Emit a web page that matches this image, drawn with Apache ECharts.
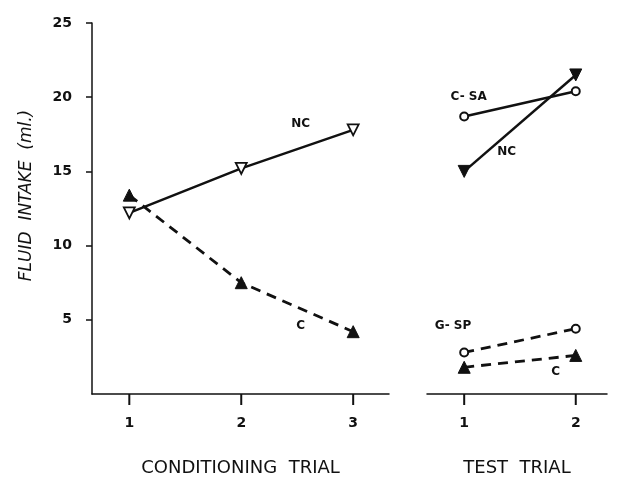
<!DOCTYPE html>
<html>
<head>
<meta charset="utf-8">
<script src="https://cdn.jsdelivr.net/npm/echarts@6/dist/echarts.min.js"></script>
<style>
html, body { margin: 0; padding: 0; background: #fff; }
#main { width: 620px; height: 478px; }
</style>
</head>
<body>
<div id="main"></div>
<script>
// conditioning trials (left panel)
var condTrials = [1, 2, 3];
var condNC = [12.2, 15.2, 17.8];
var condC = [13.4, 7.5, 4.2];

// test trials (right panel)
var testTrials = [1, 2];
var testCSA = [18.7, 20.4];
var testNC = [15.0, 21.5];
var testGSP = [2.8, 4.4];
var testC = [1.8, 2.6];

var yTicks = [5, 10, 15, 20, 25];

function pairs(xs, ys) {
    return xs.map(function (x, i) { return [x, ys[i]]; });
}

var myChart = echarts.init(document.getElementById('main'));

var lbl = function (text, coord) {
    return {
        coord: coord,
        symbolSize: 0,
        label: {
            show: true, formatter: text, position: 'inside',
            color: '#111', fontSize: 12, fontWeight: 'bold', fontFamily: 'DejaVu Sans'
        }
    };
};

var axisText = { color: '#111', fontSize: 14, fontWeight: 'bold', fontFamily: 'DejaVu Sans' };

// x labels carry their own tick mark (a small dark box above the number)
function xLabel(values) {
    return {
        margin: 0,
        customValues: values,
        formatter: function (v) { return '{t| }\n{n|' + v + '}'; },
        rich: {
            t: { width: 2, height: 11, lineHeight: 11, backgroundColor: '#111', fontSize: 1 },
            n: { color: '#111', fontSize: 14, fontWeight: 'bold', fontFamily: 'DejaVu Sans',
                 lineHeight: 36 }
        }
    };
}

option = {
    animation: false,
    backgroundColor: '#fff',
    grid: [
        { left: 92, top: 23, width: 297, height: 371, outerBoundsMode: 'none', containLabel: false },
        { left: 427, top: 23, width: 180, height: 371, outerBoundsMode: 'none', containLabel: false }
    ],
    xAxis: [
        {
            gridIndex: 0, type: 'value', min: 2 / 3, max: 3.32, interval: 1 / 3,
            axisLine: { onZero: false, lineStyle: { color: '#111', width: 1.5 } },
            axisTick: { show: false },
            axisLabel: xLabel(condTrials),
            splitLine: { show: false },
            name: 'CONDITIONING  TRIAL', nameLocation: 'middle', nameGap: 65,
            nameTextStyle: { color: '#111', fontSize: 18, fontFamily: 'DejaVu Sans' }
        },
        {
            gridIndex: 1, type: 'value', min: 2 / 3, max: 2.28, interval: 1 / 3,
            axisLine: { onZero: false, lineStyle: { color: '#111', width: 1.5 } },
            axisTick: { show: false },
            axisLabel: xLabel(testTrials),
            splitLine: { show: false },
            name: 'TEST  TRIAL', nameLocation: 'middle', nameGap: 65,
            nameTextStyle: { color: '#111', fontSize: 18, fontFamily: 'DejaVu Sans' }
        }
    ],
    yAxis: [
        {
            gridIndex: 0, type: 'value', min: 0, max: 25, interval: 5,
            axisLine: { show: true, onZero: false, lineStyle: { color: '#111', width: 1.5 } },
            axisTick: { show: true, length: 6, lineStyle: { color: '#111', width: 1.5 },
                customValues: yTicks },
            axisLabel: Object.assign({ margin: 20, customValues: yTicks }, axisText),
            splitLine: { show: false },
            name: 'FLUID  INTAKE  (ml.)', nameLocation: 'middle', nameGap: 57,
            nameTextStyle: { color: '#111', fontSize: 17, fontStyle: 'italic', fontFamily: 'DejaVu Sans',
                padding: [0, 0, 0, 26] }
        },
        {
            gridIndex: 1, type: 'value', min: 0, max: 25, interval: 5,
            axisLine: { show: false }, axisTick: { show: false },
            axisLabel: { show: false }, splitLine: { show: false }
        }
    ],
    series: [
        {
            name: 'NC', type: 'line', xAxisIndex: 0, yAxisIndex: 0,
            data: pairs(condTrials, condNC),
            symbol: 'triangle', symbolRotate: 180, symbolSize: 11,
            lineStyle: { color: '#111', width: 2.5 },
            itemStyle: { color: '#fff', borderColor: '#111', borderWidth: 1.8 },
            markPoint: { data: [lbl('NC', [2.53, 18.2])] }
        },
        {
            name: 'C', type: 'line', xAxisIndex: 0, yAxisIndex: 0,
            data: pairs(condTrials, condC),
            symbol: 'triangle', symbolSize: 12,
            lineStyle: { color: '#111', width: 2.8, type: [10, 7] },
            itemStyle: { color: '#111', borderColor: '#111' },
            markPoint: { data: [lbl('C', [2.53, 4.6])] }
        },
        {
            name: 'C-SA', type: 'line', xAxisIndex: 1, yAxisIndex: 1,
            data: pairs(testTrials, testCSA),
            symbol: 'emptyCircle', symbolSize: 8,
            lineStyle: { color: '#111', width: 2.5 },
            itemStyle: { color: '#111', borderColor: '#111', borderWidth: 1.8 },
            markPoint: { data: [lbl('C- SA', [1.04, 20.0])] }
        },
        {
            name: 'NC2', type: 'line', xAxisIndex: 1, yAxisIndex: 1,
            data: pairs(testTrials, testNC),
            symbol: 'triangle', symbolRotate: 180, symbolSize: 12,
            lineStyle: { color: '#111', width: 2.5 },
            itemStyle: { color: '#111', borderColor: '#111' },
            markPoint: { data: [lbl('NC', [1.38, 16.3])] }
        },
        {
            name: 'G-SP', type: 'line', xAxisIndex: 1, yAxisIndex: 1,
            data: pairs(testTrials, testGSP),
            symbol: 'emptyCircle', symbolSize: 8,
            lineStyle: { color: '#111', width: 2.8, type: [10, 7] },
            itemStyle: { color: '#111', borderColor: '#111', borderWidth: 1.8 },
            markPoint: { data: [lbl('G- SP', [0.9, 4.6])] }
        },
        {
            name: 'C2', type: 'line', xAxisIndex: 1, yAxisIndex: 1,
            data: pairs(testTrials, testC),
            symbol: 'triangle', symbolSize: 12,
            lineStyle: { color: '#111', width: 2.8, type: [10, 7] },
            itemStyle: { color: '#111', borderColor: '#111' },
            markPoint: { data: [lbl('C', [1.82, 1.5])] }
        }
    ]
};

myChart.setOption(option);
window.addEventListener("resize", function () {
    myChart.resize();
});
</script>
</body>
</html>
